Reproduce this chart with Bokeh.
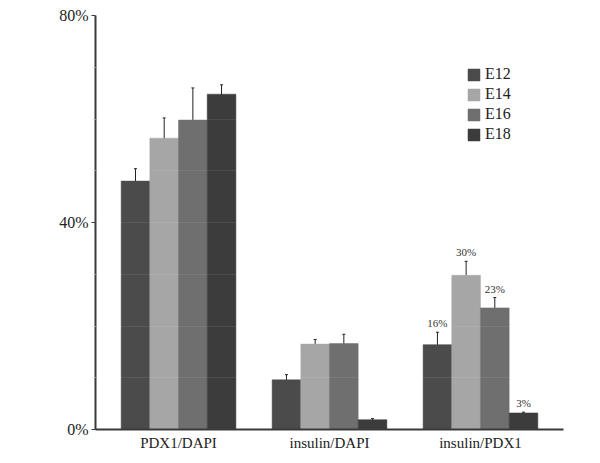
from bokeh.plotting import figure
from bokeh.models import (FactorRange, Range1d, ColumnDataSource, Whisker, TeeHead,
                          FixedTicker, Legend, LegendItem)
from bokeh.transform import dodge
from bokeh.core.properties import value
from bokeh.embed import file_html
from bokeh.resources import INLINE

# ---- data ----
groups = ["PDX1/DAPI", "insulin/DAPI", "insulin/PDX1"]
series = ["E12", "E14", "E16", "E18"]
E12 = [48.0, 9.6, 16.4]
E14 = [56.3, 16.5, 29.8]
E16 = [59.8, 16.6, 23.5]
E18 = [64.8, 1.9, 3.2]
E12_err = [2.4, 1.0, 2.4]
E14_err = [3.9, 0.9, 2.7]
E16_err = [6.2, 1.8, 2.0]
E18_err = [1.8, 0.2, 0.15]
# value labels shown above the insulin/PDX1 bars
E12_lbl = ["", "", "16%"]
E14_lbl = ["", "", "30%"]
E16_lbl = ["", "", "23%"]
E18_lbl = ["", "", "3%"]
y_ticks = [0, 40, 80]
y_tick_labels = ["0%", "40%", "80%"]
y_minor = [10, 20, 30, 50, 60, 70]

values = [E12, E14, E16, E18]
errors = [E12_err, E14_err, E16_err, E18_err]
labels = [E12_lbl, E14_lbl, E16_lbl, E18_lbl]

# ---- styles ----
colors = ["#4b4b4b", "#a6a6a6", "#6f6f6f", "#3c3c3c"]
offsets = [-0.285, -0.095, 0.095, 0.285]
bar_w = 0.19
FONT = "Liberation Serif"
AXIS_COLOR = "#3a3a3a"

p = figure(
    width=600, height=460,
    x_range=FactorRange(factors=groups, range_padding=0.05, range_padding_units="absolute"),
    y_range=Range1d(0, 80),
    output_backend="svg", toolbar_location=None,
    min_border_left=95, min_border_right=37, min_border_top=15, min_border_bottom=31,
)
p.outline_line_color = None
p.background_fill_color = "white"
p.border_fill_color = "white"

items = []
for i, name in enumerate(series):
    upper = [v + e for v, e in zip(values[i], errors[i])]
    lower = [v - e for v, e in zip(values[i], errors[i])]
    src = ColumnDataSource(dict(group=groups, val=values[i], upper=upper,
                                lower=lower, lbl=labels[i]))
    xd = dodge("group", offsets[i], range=p.x_range)
    r = p.vbar(x=xd, top="val", width=bar_w, source=src,
               fill_color=colors[i], line_color=colors[i], line_width=0.5)
    items.append(LegendItem(label=name, renderers=[r]))
    w = Whisker(base=xd, upper="upper", lower="lower", source=src,
                line_color="#222222", line_width=1,
                upper_head=TeeHead(size=3, line_color="#222222", line_width=1),
                lower_head=TeeHead(size=3, line_color="#222222", line_width=1))
    p.add_layout(w)
    p.text(x=xd, y="upper", text="lbl", source=src,
           text_font=value(FONT), text_font_size="11px", text_color="#333333",
           text_align="center", text_baseline="middle", y_offset=-9)

# faint lines across bars
p.xgrid.grid_line_color = None
p.ygrid.grid_line_color = "white"
p.ygrid.grid_line_alpha = 0.08
p.ygrid.minor_grid_line_color = "white"
p.ygrid.minor_grid_line_alpha = 0.08
p.ygrid.level = "annotation"

# y axis
yax = p.yaxis[0]
yax.ticker = FixedTicker(ticks=y_ticks, minor_ticks=y_minor)
yax.major_label_overrides = {t: l for t, l in zip(y_ticks, y_tick_labels)}
yax.major_label_text_font = FONT
yax.major_label_text_font_size = "16px"
yax.major_label_text_color = "#222222"
yax.major_label_standoff = 3
yax.axis_line_color = AXIS_COLOR
yax.axis_line_width = 2
yax.major_tick_line_color = AXIS_COLOR
yax.major_tick_in = 0
yax.major_tick_out = 4
yax.minor_tick_line_color = "#bbbbbb"
yax.minor_tick_in = 0
yax.minor_tick_out = 2

# x axis
xax = p.xaxis[0]
xax.major_label_text_font = FONT
xax.major_label_text_font_size = "15px"
xax.major_label_text_color = "#222222"
xax.major_label_standoff = 5
xax.axis_line_color = AXIS_COLOR
xax.axis_line_width = 2
xax.major_tick_line_color = None
xax.major_tick_in = 0
xax.major_tick_out = 0
xax.minor_tick_line_color = None

legend = Legend(items=items, location=(371, 286),
                glyph_width=15, glyph_height=15, label_height=15,
                label_standoff=4, spacing=2, padding=0, margin=0,
                label_text_font=FONT, label_text_font_size="16px",
                label_text_color="#222222",
                border_line_color=None, background_fill_alpha=0)
p.add_layout(legend)

open("out.html", "w").write(file_html(p, INLINE))
